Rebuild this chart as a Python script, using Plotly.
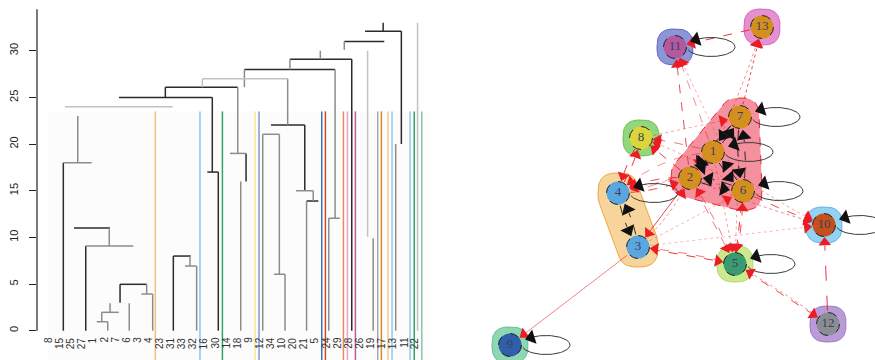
import numpy as np
import plotly.graph_objects as go

# ================= Dendrogram (left) =================
leaf_labels = ['8', '15', '25', '27', '1', '2', '7', '6', '3', '4', '23', '31', '33', '32', '16', '30', '14',
               '18', '9', '12', '34', '10', '20', '21', '5', '24', '29', '28', '26', '19', '17', '13', '11', '22']
y_ticks = [0, 5, 10, 15, 20, 25, 30]

# horizontal merge bars (leaf-position units, height)
bar_x0 = [1.44, 1.29, 2.25, 3.31, 6.4, 8.32, 4.75, 4.3, 11.2, 12.25, 6.31, 10.48, 13.81, 14.26, 16.3,
          20.0, 19.25, 20.27, 22.25, 23.2, 17.6, 25.2, 21.7, 26.6, 28.47]
bar_x1 = [11.14, 3.85, 5.5, 7.59, 8.8, 9.34, 6.28, 5.29, 12.77, 13.3, 14.71, 17.0, 21.5, 15.25, 17.75,
          23.04, 20.75, 21.26, 23.8, 24.26, 25.77, 26.2, 27.27, 30.2, 31.74]
bar_h = [24.0, 18.0, 11.0, 9.08, 4.97, 3.93, 1.97, 0.96, 8.0, 6.93, 25.0, 26.1, 27.0, 17.0, 19.0,
         22.05, 21.05, 6.05, 15.0, 13.9, 28.0, 12.05, 29.1, 31.0, 32.1]
bar_tone = ['l', 'g', 'k', 'g', 'k', 'g', 'g', 'g', 'k', 'g', 'k', 'k', 'l', 'k', 'g',
            'k', 'g', 'g', 'g', 'k', 'k', 'g', 'k', 'k', 'k']

# vertical links (leaf-position units, top height, bottom height)
link_x = [2.59, 1.29, 5.43, 3.31, 6.4, 8.8, 9.34, 7.23, 5.5, 4.75, 5.29, 11.2, 12.7, 13.3, 10.48, 13.81,
          14.71, 15.25, 17.0, 17.75, 17.27, 21.5, 19.25, 20.75, 21.26, 23.04, 23.8, 23.2, 17.6, 25.77,
          25.2, 24.44, 21.7, 27.27, 26.6, 28.7, 29.2, 30.1, 31.74, 31.23, 33.2]
link_top = [23.0, 18.0, 11.0, 9.08, 4.97, 4.97, 3.93, 2.94, 2.94, 1.97, 0.96, 8.0, 8.0, 6.93, 26.1, 27.0,
            25.0, 17.0, 26.1, 19.0, 16.0, 27.0, 21.05, 21.05, 6.05, 22.05, 15.0, 13.9, 28.0, 28.0,
            12.05, 30.0, 29.1, 29.1, 31.0, 30.0, 9.9, 33.0, 32.1, 20.0, 33.0]
link_bot = [18.0, 0, 9.08, 0, 3.0, 3.93, 0, 0, 1.97, 0.96, 0, 0, 6.93, 0, 25.0, 26.1,
            17.0, 0, 19.0, 16.0, 0, 22.05, 0, 6.05, 0, 15.0, 13.9, 0, 26.1, 12.05,
            0, 29.1, 28.0, 0, 30.1, 10.07, 0, 32.1, 20.0, 0, 0]
link_tone = ['g', 'k', 'g', 'k', 'k', 'g', 'g', 'g', 'g', 'g', 'g', 'k', 'g', 'g', 'k', 'l',
             'k', 'k', 'g', 'k', 'g', 'g', 'g', 'g', 'g', 'k', 'g', 'g', 'g', 'g',
             'g', 'g', 'g', 'k', 'g', 'l', 'g', 'k', 'k', 'g', 'l']

# coloured cluster stems
stem_x = [9.58, 13.6, 15.62, 18.56, 18.92, 24.57, 24.9, 26.52, 26.88, 27.6, 29.61, 29.94, 30.54,
          30.9, 32.52, 32.9, 33.58]
stem_color = ['#f0c27e', '#86c5ee', '#2ea36a', '#f1ea8c', '#7d9bd4', '#3d6fc0', '#cf4a22', '#e98a5e',
              '#e6a4cc', '#c25aaa', '#a8a8a8', '#db8a2a', '#f3c98e', '#8fcaf0', '#8fcaf0', '#2ea36a',
              '#7fcca2']
stem_top = 23.5
stem_bottom = -3.2

tone_color = {'k': '#2b2b2b', 'g': '#8c8c8c', 'l': '#c2c2c2'}

# ================= Network (right) =================
node_id = [1, 2, 3, 4, 5, 6, 7, 8, 9, 10, 11, 12, 13]
node_x = [713, 690, 638, 618, 735, 743, 740, 641, 510, 824, 675, 828, 762]
node_y = [152, 178, 247, 193, 264, 191, 117, 138, 345, 225, 47, 324, 27]
node_fill = ['#d48f1f', '#d48f1f', '#5aa6de', '#5aa6de', '#3a9a70', '#d48f1f', '#d48f1f', '#d9d53a',
             '#2f5fa8', '#c4501e', '#b3599f', '#8a8d94', '#d48f1f']

groups = [[1, 2, 6, 7], [3, 4], [5], [8], [9], [10], [11], [12], [13]]
group_fill = ['#f5909f', '#f7d49b', '#cde98e', '#92d77b', '#8fd6b5', '#94d2f3', '#8c95d8', '#b99bd8', '#e690d2']
group_line = ['#e8283c', '#f2a444', '#b0d868', '#6cc052', '#66c196', '#60b4e4', '#5e68c4', '#9c78c8', '#d666bc']
group_dash = ['dash', 'solid', 'solid', 'solid', 'solid', 'solid', 'solid', 'solid', 'solid']
group_pad = [19, 20, 18, 18, 18, 18, 18, 18, 18]

# red (between-group) edges: from, to, curvature, dash, opacity
red_edges = [
    (13, 11, 0.0, 'dash', 0.9), (7, 13, 0.0, 'dot', 0.8), (1, 13, 0.04, 'dot', 0.5),
    (2, 11, 0.0, 'dash', 0.8), (1, 11, 0.0, 'dash', 0.5), (6, 11, 0.0, 'dot', 0.35),
    (2, 8, 0.0, 'dash', 0.85), (1, 8, 0.05, 'dash', 0.6), (6, 8, 0.08, 'dot', 0.4),
    (8, 7, 0.0, 'dot', 0.4), (8, 4, 0.08, 'dash', 0.9), (4, 8, 0.08, 'dash', 0.9),
    (2, 4, 0.15, 'dash', 0.8), (1, 4, 0.18, 'dash', 0.5), (6, 4, 0.18, 'dot', 0.4),
    (4, 2, 0.1, 'dash', 0.8), (2, 3, 0.0, 'solid', 0.8), (3, 2, 0.1, 'dot', 0.5),
    (3, 5, 0.0, 'dash', 0.9), (5, 3, 0.04, 'dash', 0.6), (3, 9, 0.0, 'solid', 0.55),
    (3, 6, 0.0, 'dot', 0.35), (3, 10, 0.0, 'dot', 0.3), (5, 12, 0.0, 'dash', 0.8),
    (12, 5, 0.03, 'dot', 0.5), (12, 10, 0.0, 'longdash', 0.9), (6, 10, 0.04, 'dash', 0.8),
    (2, 10, 0.04, 'dot', 0.5), (1, 10, 0.08, 'dot', 0.4), (6, 5, 0.0, 'dash', 0.9),
    (5, 6, 0.05, 'dash', 0.8), (2, 5, 0.0, 'dash', 0.6), (5, 2, 0.05, 'dash', 0.6),
    (1, 5, 0.0, 'dot', 0.4), (7, 5, 0.0, 'dot', 0.4), (4, 1, 0.15, 'dash', 0.5),
]
# black (within-group) edges: from, to, curvature
black_edges = [
    (7, 1, 0.1), (1, 7, 0.1), (2, 1, 0.1), (1, 2, 0.1), (6, 1, 0.1), (1, 6, 0.1),
    (2, 6, 0.1), (6, 2, 0.15), (7, 6, 0.1), (6, 7, 0.1), (7, 2, 0.08), (4, 3, 0.12), (3, 4, 0.12),
]
loop_nodes = [11, 7, 1, 6, 10, 5, 9, 4]

# ---------------------------------------------------------
fig = go.Figure()

# background panel of dendrogram
fig.add_shape(type='rect', xref='x', yref='y', x0=-0.1, x1=34.3, y0=stem_bottom, y1=stem_top,
              fillcolor='#fcfcfc', line_width=0, layer='below')

# coloured stems
for sx, sc in zip(stem_x, stem_color):
    fig.add_trace(go.Scatter(x=[sx, sx], y=[stem_top, stem_bottom], mode='lines',
                             line=dict(color=sc, width=1.5), hoverinfo='skip', showlegend=False,
                             xaxis='x', yaxis='y'))

# dendrogram segments per tone
for tone, col in tone_color.items():
    xs, ys = [], []
    for a, b, h, t in zip(bar_x0, bar_x1, bar_h, bar_tone):
        if t == tone:
            xs += [a, b, None]
            ys += [h, h, None]
    for x, t0, t1, t in zip(link_x, link_top, link_bot, link_tone):
        if t == tone:
            xs += [x, x, None]
            ys += [t0, t1, None]
    fig.add_trace(go.Scatter(x=xs, y=ys, mode='lines', line=dict(color=col, width=1.5),
                             hoverinfo='skip', showlegend=False, xaxis='x', yaxis='y'))

# y axis line
fig.add_shape(type='line', xref='paper', yref='y', x0=37 / 875, x1=37 / 875, y0=0, y1=34.45,
              line=dict(color='#222', width=1.2))

# leaf labels
for i, lab in enumerate(leaf_labels):
    fig.add_annotation(x=i, y=-0.46, xref='x', yref='y', text=lab, textangle=-90, showarrow=False,
                       xanchor='center', yanchor='top', font=dict(size=10, color='#333',
                                                                   family='Liberation Sans'))

# ---------------- network ----------------
pos = {n: np.array([x, y], float) for n, x, y in zip(node_id, node_x, node_y)}
R = 11.5


def hull(points):
    pts = sorted(set(map(tuple, np.round(points, 4))))
    if len(pts) <= 2:
        return pts

    def cross(o, a, b):
        return (a[0] - o[0]) * (b[1] - o[1]) - (a[1] - o[1]) * (b[0] - o[0])
    lower, upper = [], []
    for p in pts:
        while len(lower) >= 2 and cross(lower[-2], lower[-1], p) <= 0:
            lower.pop()
        lower.append(p)
    for p in reversed(pts):
        while len(upper) >= 2 and cross(upper[-2], upper[-1], p) <= 0:
            upper.pop()
        upper.append(p)
    return lower[:-1] + upper[:-1]


def superellipse(c, r, n=2.7, m=72):
    th = np.linspace(0, 2 * np.pi, m, endpoint=False)
    co, si = np.cos(th), np.sin(th)
    return np.column_stack([c[0] + r * np.sign(co) * np.abs(co) ** (2 / n),
                            c[1] + r * np.sign(si) * np.abs(si) ** (2 / n)])


for g, fc, lc, dsh, pad in zip(groups, group_fill, group_line, group_dash, group_pad):
    pts = np.vstack([superellipse(pos[n], pad) for n in g])
    h = hull(pts)
    hx = [p[0] for p in h] + [h[0][0]]
    hy = [p[1] for p in h] + [h[0][1]]
    fig.add_trace(go.Scatter(x=hx, y=hy, mode='lines', fill='toself', fillcolor=fc,
                             line=dict(color=lc, width=1, dash=dsh), hoverinfo='skip',
                             showlegend=False, xaxis='x2', yaxis='y2'))


def curve_path(a, b, curv, head):
    p0, p2 = pos[a], pos[b]
    d = p2 - p0
    L = np.linalg.norm(d)
    perp = np.array([-d[1], d[0]]) / L
    c = (p0 + p2) / 2 + curv * L * perp
    t = np.linspace(0, 1, 120)[:, None]
    pts = (1 - t) ** 2 * p0 + 2 * (1 - t) * t * c + t ** 2 * p2
    d0 = np.linalg.norm(pts - p0, axis=1)
    d2 = np.linalg.norm(pts - p2, axis=1)
    keep = (d0 > R + 1) & (d2 > R + head * 0.8)
    line = pts[keep]
    idx = np.argmin(np.abs(d2 - (R + head * 0.55)))
    tip = pts[idx]
    tang = pts[min(idx + 1, len(pts) - 1)] - pts[idx - 1]
    ang = np.degrees(np.arctan2(tang[0], -tang[1]))
    return line, tip, ang


def add_arrow_heads(xy, angs, color, size):
    fig.add_trace(go.Scatter(x=[p[0] for p in xy], y=[p[1] for p in xy], mode='markers',
                             marker=dict(symbol='triangle-up', size=size, color=color, angle=angs,
                                         line=dict(width=0)),
                             hoverinfo='skip', showlegend=False, xaxis='x2', yaxis='y2'))


red_tips, red_angs = [], []
for a, b, cv, dsh, al in red_edges:
    line, tip, ang = curve_path(a, b, cv, 11)
    fig.add_trace(go.Scatter(x=line[:, 0], y=line[:, 1], mode='lines',
                             line=dict(color=f'rgba(236,28,36,{al})', width=1, dash=dsh),
                             hoverinfo='skip', showlegend=False, xaxis='x2', yaxis='y2'))
    red_tips.append(tip)
    red_angs.append(ang)

blk_tips, blk_angs = [], []
for a, b, cv in black_edges:
    line, tip, ang = curve_path(a, b, cv, 14)
    fig.add_trace(go.Scatter(x=line[:, 0], y=line[:, 1], mode='lines',
                             line=dict(color='rgba(20,20,20,0.85)', width=1, dash='dash'),
                             hoverinfo='skip', showlegend=False, xaxis='x2', yaxis='y2'))
    blk_tips.append(tip)
    blk_angs.append(ang)

# self loops
for n in loop_nodes:
    cx, cy = pos[n][0] + 36, pos[n][1]
    th = np.radians(np.linspace(-165, 120, 80))
    lx = cx + 24 * np.cos(th)
    ly = cy - 9.5 * np.sin(th)
    fig.add_trace(go.Scatter(x=lx, y=ly, mode='lines', line=dict(color='#3a3a3a', width=1),
                             hoverinfo='skip', showlegend=False, xaxis='x2', yaxis='y2'))
    t0 = np.radians(128)
    tip = np.array([cx + 24 * np.cos(t0), cy - 9.5 * np.sin(t0)])
    tang = np.array([-24 * np.sin(t0), -9.5 * np.cos(t0)])
    blk_tips.append(tip)
    blk_angs.append(np.degrees(np.arctan2(tang[0], -tang[1])))

add_arrow_heads(red_tips, red_angs, '#ec1c24', 11)
add_arrow_heads(blk_tips, blk_angs, '#111111', 13)

# nodes
fig.add_trace(go.Scatter(x=node_x, y=node_y, mode='markers+text', text=[str(n) for n in node_id],
                         textposition='middle center',
                         textfont=dict(family='Liberation Serif', size=13, color='#3c3f5e'),
                         marker=dict(size=2 * R, color=node_fill, line=dict(width=0)),
                         hoverinfo='skip', showlegend=False, xaxis='x2', yaxis='y2'))
for x, y in zip(node_x, node_y):
    fig.add_shape(type='circle', xref='x2', yref='y2', x0=x - R, x1=x + R, y0=y - R, y1=y + R,
                  line=dict(color='#222', width=1, dash='dash'), layer='above')

fig.update_layout(
    width=875, height=360, margin=dict(l=0, r=0, t=0, b=0),
    paper_bgcolor='white', plot_bgcolor='rgba(0,0,0,0)',
    xaxis=dict(domain=[37 / 875, 435 / 875], range=[-1.081, 34.77], visible=False),
    yaxis=dict(domain=[0, 1], range=[-3.14, 35.44], showgrid=False, zeroline=False, showline=False,
               tickvals=y_ticks, ticktext=[str(v) for v in y_ticks], ticks='outside', ticklen=7,
               tickcolor='#222', tickangle=-90, ticklabelstandoff=7,
               tickfont=dict(size=11, color='#222', family='Liberation Sans')),
    xaxis2=dict(domain=[480 / 875, 1], range=[480, 875], visible=False),
    yaxis2=dict(domain=[0, 1], range=[360, 0], visible=False, anchor='x2'),
)

fig.write_html('out.html')
